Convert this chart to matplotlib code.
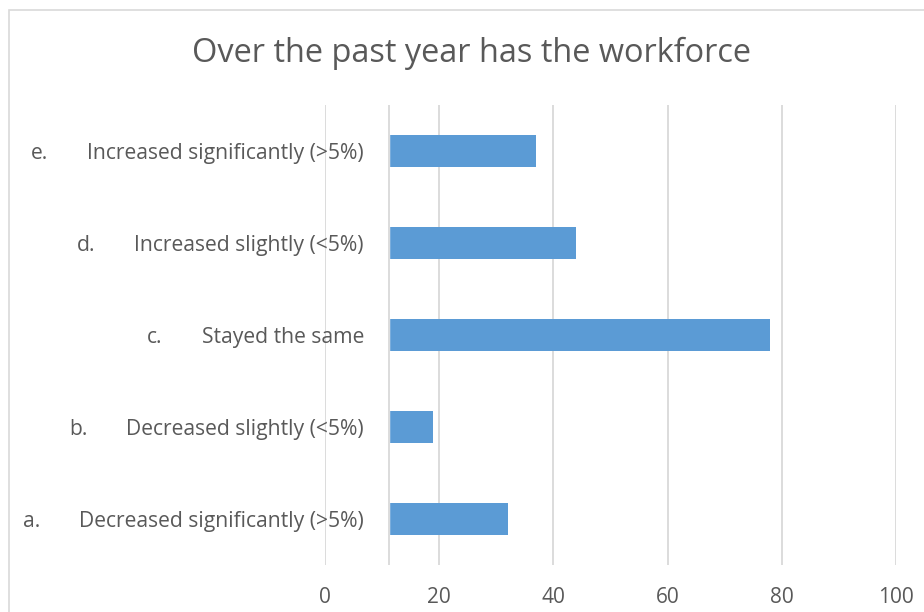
import matplotlib.pyplot as plt
from matplotlib.patches import Rectangle
from matplotlib.transforms import blended_transform_factory

letters = ['a.', 'b.', 'c.', 'd.', 'e.']
answers = ['Decreased significantly (>5%)', 'Decreased slightly (<5%)',
           'Stayed the same', 'Increased slightly (<5%)',
           'Increased significantly (>5%)']
counts = [32, 19, 78, 44, 37]
xticks = [0, 20, 40, 60, 80, 100]

title = 'Over the past year has the workforce'
bar_color = '#5B9BD5'
text_color = '#595959'
grid_color = '#D9D9D9'
axis_at = 11.2  # where the category axis line sits

plt.rcParams['font.family'] = ['Open Sans', 'DejaVu Sans']

W, H = 924, 612
fig = plt.figure(figsize=(W / 100, H / 100), dpi=100)
fig.patches.append(Rectangle((9 / W, -0.1), 1.2, 1.1 - 10 / H, transform=fig.transFigure,
                             fill=False, edgecolor=grid_color, linewidth=1.2))

ax = fig.add_axes([325 / W, 47 / H, 571 / W, 460 / H])
y = range(len(counts))
for t in xticks[1:]:
    ax.axvline(t, color=grid_color, linewidth=1.3, zorder=1)
ax.barh(y, counts, height=0.35, color=bar_color, zorder=2)
ax.axvspan(0, axis_at, color='white', zorder=3)
ax.axvline(0, color=grid_color, linewidth=1.3, zorder=4)
ax.axvline(axis_at, color=grid_color, linewidth=1.3, zorder=4)

ax.set_xlim(0, 100)
ax.set_ylim(-0.5, len(counts) - 0.5)
ax.set_xticks(xticks)
ax.set_yticks([])
ax.tick_params(axis='x', length=0, pad=16, labelsize=15, labelcolor=text_color)
for s in ax.spines.values():
    s.set_visible(False)

label_tr = blended_transform_factory(fig.transFigure, ax.transData)
descs = []
for i in y:
    descs.append(ax.text(364 / W, i, answers[i], transform=label_tr,
                         ha='right', va='center_baseline', fontsize=15.2,
                         color=text_color, zorder=5))

fig.canvas.draw()
for i in y:
    x0 = descs[i].get_window_extent().x0
    ax.text((x0 - 39) / W, i, letters[i], transform=label_tr,
            ha='right', va='center_baseline', fontsize=15.2, color=text_color)

fig.text(472 / W, 1 - 53 / H, title, ha='center', va='center',
         fontsize=23.4, color=text_color)

fig.savefig('out.png', dpi=100)
